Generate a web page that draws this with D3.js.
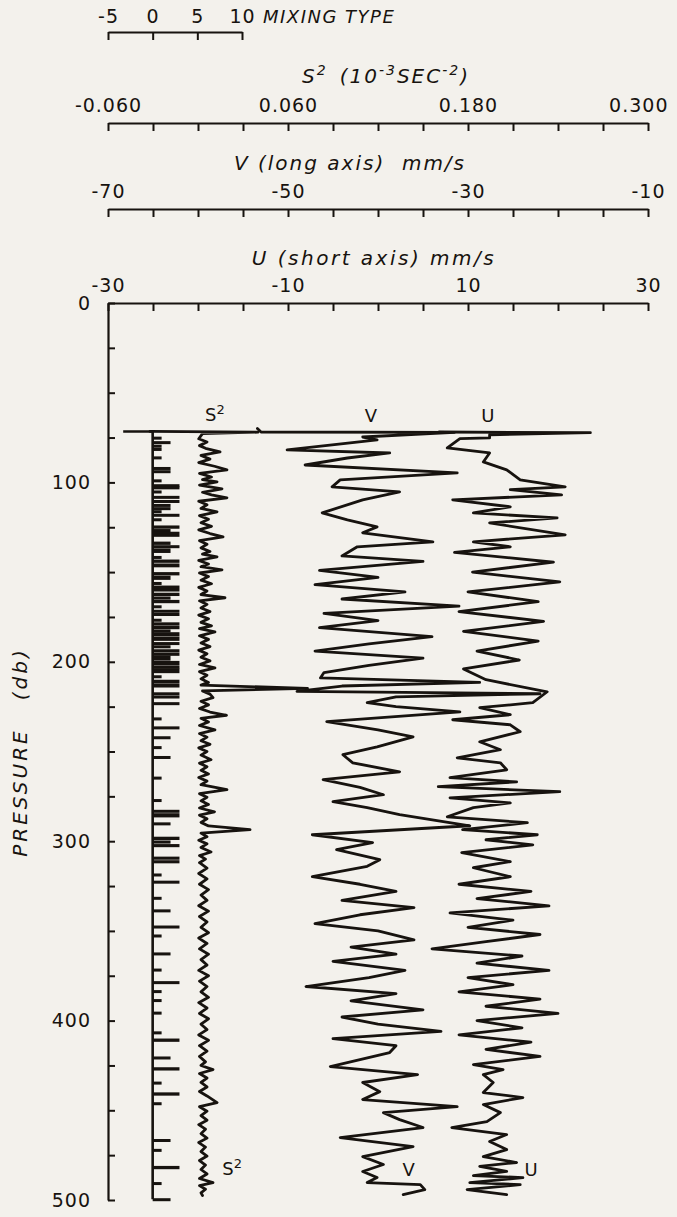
<!DOCTYPE html>
<html>
<head>
<meta charset="utf-8">
<script src="https://cdn.jsdelivr.net/npm/d3@7"></script>
<style>
  body { margin: 0; background: #f3f1ec; }
  svg { display: block; }
  text { font-family: "DejaVu Sans", sans-serif; fill: #17130f; }
  .it { font-style: italic; }
</style>
</head>
<body>
<svg id="chart" width="677" height="1217"></svg>
<script>
// ---- axis ticks and labels ----
const mixTicks = [-5, 0, 5, 10];
const s2Ticks = [-0.06, -0.03, 0, 0.03, 0.06, 0.09, 0.12, 0.15, 0.18, 0.21, 0.24, 0.27, 0.30];
const s2Labels = [-0.06, 0.06, 0.18, 0.30];
const vTicks = [-70, -65, -60, -55, -50, -45, -40, -35, -30, -25, -20, -15, -10];
const vLabels = [-70, -50, -30, -10];
const uTicks = [-30, -25, -20, -15, -10, -5, 0, 5, 10, 15, 20, 25, 30];
const uLabels = [-30, -10, 10, 30];
const pTicks = [0, 25, 50, 75, 100, 125, 150, 175, 200, 225, 250, 275, 300, 325, 350, 375, 400, 425, 450, 475, 500];
const pLabels = [0, 100, 200, 300, 400, 500];

// ---- mixing type: baseline and bars (pressure interval, type) ----
const mixLineP = [71.6, 71.6, 499.6];
const mixLineV = [-3.3, 0, 0];
const mixTop = [74.5, 77, 79, 80.8, 85.5, 91.4, 93.2, 98.3, 101, 102.2, 104.5, 107.5, 109.8, 112, 113.8, 115.5, 117.5, 120, 124, 126, 127.5, 133, 135, 136.8, 141, 143, 145.2, 150, 152, 155.5, 157.5, 161.5, 163.6, 165.5, 168.5, 171, 172.8, 176, 178, 180, 182, 183.5, 186, 189, 190.8, 193, 195, 196.5, 199.5, 202, 203.5, 207.5, 210, 212, 217, 218.8, 222.5, 231, 236, 241.5, 247, 252.5, 264, 276.5, 282.5, 284.4, 289.5, 297.5, 299.6, 301.6, 308.6, 310.6, 318, 322, 331, 338, 347, 352, 362, 371, 378, 383, 388, 395, 406, 410, 420, 426, 434, 440, 445.5, 466, 471.5, 481, 490, 499];
const mixBot = [75.2, 77.8, 80, 82, 86.2, 92.6, 94, 99, 101.8, 103, 105.2, 108.5, 111, 113.2, 115, 116.2, 118.5, 121, 125.5, 127, 130, 134.5, 136.2, 139, 141.7, 144.5, 147, 151.5, 154, 156.2, 160.5, 163, 165, 167, 169.2, 172.2, 174, 176.7, 179.5, 181.5, 183, 185.5, 188, 190.3, 192, 194.5, 196, 199, 201.5, 203, 206, 208.2, 211.5, 214, 218.2, 219.5, 223.3, 231.8, 236.8, 242.3, 247.8, 253.3, 264.8, 277.3, 283.8, 286.4, 290.2, 299, 301, 303, 310, 312, 318.8, 323, 331.8, 338.8, 348, 352.8, 362.8, 371.8, 379, 383.8, 388.8, 395.8, 406.8, 411.5, 420.8, 427.5, 434.8, 441.5, 446.3, 466.8, 472.3, 482.5, 490.8, 499.8];
const mixType = [1, 2, 1, 1, 1, 2, 2, 1, 3, 3, 1, 3, 3, 2, 2, 1, 3, 1, 3, 2, 3, 2, 3, 2, 1, 3, 3, 3, 2, 1, 3, 3, 2, 3, 1, 3, 3, 1, 3, 3, 2, 3, 3, 3, 2, 3, 3, 2, 3, 3, 3, 1, 3, 3, 3, 3, 3, 1, 3, 2, 1, 2, 1, 1, 3, 3, 2, 3, 2, 3, 3, 3, 1, 3, 1, 2, 3, 1, 2, 1, 3, 1, 1, 1, 1, 3, 2, 3, 1, 3, 1, 2, 1, 3, 1, 2];

// ---- S^2 profile (pressure, 10^-3 s^-2) ----
const s2P = [71.6, 72.0, 72.8, 75.7, 77.5, 79.5, 81, 83, 85, 87, 89, 91, 93, 95, 97, 98.5, 99.7, 101.5, 103.6, 105.5, 107, 108.6, 110.5, 112.5, 114.5, 116.4, 118.5, 120.5, 122.5, 124.5, 126.5, 128.5, 130.4, 132.5, 134.5, 136.5, 138.5, 140, 141.5, 143.5, 145.5, 147, 148.7, 150.5, 152.5, 154.5, 156.5, 158.5, 160.5, 162.5, 164.3, 166, 168, 170, 172, 174, 176, 178, 180, 181.5, 183.3, 185.5, 187.5, 189.5, 191.5, 193.5, 195.5, 197.5, 199.5, 201.5, 203.4, 205.5, 207.5, 209.5, 211.5, 213, 214.8, 216.2, 218, 220, 222, 224, 226, 228, 229.8, 231.5, 233.5, 235.5, 237.9, 240, 242, 244, 246, 248, 250, 252, 254.6, 256.5, 258.5, 260.5, 262.5, 264.5, 266.5, 268.5, 271.3, 273.5, 275.5, 277.5, 279.5, 281.5, 283.6, 285.5, 287.5, 289.5, 291.5, 293.6, 295.5, 297.5, 299.5, 301.5, 303.5, 306, 308, 310, 312, 315, 318, 321, 324, 327, 330, 333, 336, 339, 342, 345, 348, 351, 354, 357, 360, 363, 366, 369, 372, 375, 378, 381, 384, 387, 390, 393, 396, 399, 402, 405, 408, 411, 414, 417, 420, 423, 425, 427.3, 429.5, 432, 434.5, 437, 439.5, 442, 445.7, 448, 450.5, 453, 455.5, 458, 460.5, 463, 465.5, 468, 470.5, 473, 475.5, 478, 480.5, 483, 485.5, 488, 490.3, 492, 494, 496, 497.5];
const s2Val = [-0.032, 0.040, 0.003, 0.0005, 0.006, 0.001, 0.005, 0.0147, 0.002, 0.008, 0.0005, 0.011, 0.0193, 0.001, 0.009, 0.003, 0.0127, 0.001, 0.016, 0.003, 0.009, 0.0193, 0.0005, 0.006, 0.002, 0.0127, 0.001, 0.007, 0.002, 0.009, 0.0005, 0.008, 0.0167, 0.001, 0.006, 0.002, 0.008, 0.003, 0.0127, 0.0005, 0.007, 0.002, 0.016, 0.001, 0.007, 0.002, 0.009, 0.0005, 0.006, 0.002, 0.018, 0.001, 0.006, 0.002, 0.008, 0.0005, 0.007, 0.002, 0.009, 0.001, 0.0113, 0.001, 0.007, 0.002, 0.008, 0.0005, 0.006, 0.002, 0.008, 0.001, 0.0113, 0.001, 0.006, 0.002, 0.007, 0.002, 0.073, 0.003, 0.008, 0.010, 0.002, 0.007, 0.001, 0.008, 0.019, 0.002, 0.007, 0.001, 0.0113, 0.001, 0.006, 0.002, 0.008, 0.0005, 0.006, 0.002, 0.0087, 0.001, 0.006, 0.002, 0.007, 0.0005, 0.006, 0.002, 0.0193, 0.001, 0.006, 0.002, 0.007, 0.001, 0.011, 0.001, 0.006, 0.002, 0.007, 0.0347, 0.002, 0.006, 0.0005, 0.006, 0.002, 0.0087, 0.001, 0.005, 0.001, 0.006, 0.0005, 0.006, 0.001, 0.007, 0.002, 0.006, 0.0005, 0.007, 0.001, 0.006, 0.002, 0.007, 0.0005, 0.006, 0.001, 0.007, 0.002, 0.006, 0.0005, 0.007, 0.001, 0.006, 0.002, 0.007, 0.0005, 0.006, 0.001, 0.007, 0.002, 0.006, 0.0005, 0.007, 0.001, 0.006, 0.001, 0.005, 0.002, 0.010, 0.001, 0.006, 0.002, 0.006, 0.001, 0.006, 0.0127, 0.001, 0.006, 0.002, 0.006, 0.0005, 0.005, 0.002, 0.006, 0.0005, 0.005, 0.002, 0.006, 0.001, 0.005, 0.002, 0.006, 0.001, 0.010, 0.001, 0.005, 0.002, 0.003];

// ---- V (long axis) profile, mm/s ----
const vP = [70.0, 71.9, 72.1, 74.7, 76.3, 81.9, 83.6, 86.4, 90.3, 94.7, 98.6, 102.5, 105.3, 109.7, 117, 120.9, 124.8, 128.1, 133.1, 135.9, 141, 144, 149, 153, 157, 161, 165, 169, 173, 177, 181, 186, 190, 194, 198, 202, 206, 209, 211.5, 213.5, 216.5, 217.8, 219.5, 222.8, 225, 227.9, 233.4, 238, 241.8, 247.4, 251.8, 256.3, 261.3, 265.7, 270, 274.1, 278, 281.3, 285.2, 291.4, 296.4, 300.8, 304.7, 310.3, 314, 319.8, 324, 328, 333, 337, 341, 346, 350, 355, 359, 363, 367, 372, 376, 381, 385, 389, 394, 398, 402, 406, 410, 414, 417.8, 425.6, 430.1, 434.5, 439.6, 444, 447.9, 451.3, 455.2, 459.6, 465.2, 470.2, 475.8, 480.2, 484.1, 487.5, 490.3, 491.4, 494.2, 497];
const vVal = [-53.4, -53.0, -31.5, -41.7, -40.1, -50.1, -38.7, -43.4, -48.1, -31.2, -44.2, -45.1, -37.6, -41.7, -46.2, -43.4, -40.1, -41.7, -33.9, -42.3, -44, -35, -46.5, -40, -47, -37, -44, -31, -46, -40, -46.5, -34, -41, -47, -35, -41, -46, -46.4, -28.7, -44, -49, -22, -38, -41.2, -38, -30.9, -45.7, -40, -36.1, -40.1, -43.9, -42.8, -37.6, -46.1, -42, -39.4, -45, -41.2, -37.6, -29.8, -47.3, -40.6, -44.6, -39.8, -41.2, -47.3, -42, -38, -44, -36, -42, -47, -40, -36, -43, -38, -45, -37, -41, -48, -38, -43, -35, -44, -40, -33, -45, -38, -38.7, -45.3, -35.6, -41.7, -39.8, -41.7, -31.2, -39.4, -37.6, -35, -44.2, -36.1, -41.7, -39.4, -41.7, -40.1, -41.2, -35.3, -34.8, -37.2];

// ---- U (short axis) profile, mm/s ----
const uP = [71.9, 72.3, 73.5, 75.2, 75.6, 80.8, 83.6, 88.6, 93, 98.6, 102.5, 104, 107, 109.7, 113.6, 117, 119.8, 122.6, 129.2, 133.1, 135.9, 139, 144.5, 150, 155.5, 161, 166.5, 172, 177.5, 183, 188.5, 194, 199, 204, 210, 216.7, 222.8, 225.6, 229.5, 232.3, 235.1, 239, 244.6, 249, 253.5, 256.3, 260.2, 264.6, 266.9, 269.6, 272.4, 275.8, 278.6, 281.3, 286.4, 289.7, 293.6, 296.4, 299.2, 302, 306.4, 311.4, 314.8, 319.8, 324, 328, 332, 336, 340, 344, 348, 352, 356, 360, 364, 368, 372, 376, 380, 384, 388, 392, 396, 400, 404, 408, 412, 416, 420, 424.5, 427.3, 430.1, 434.5, 440.1, 442.9, 446.8, 451.3, 456.3, 459.6, 463.5, 467.4, 471.9, 475.8, 479.1, 481.3, 484.1, 486.4, 487.5, 490.3, 491.4, 494.2, 497];
const uVal = [6.8, 23.6, 12.4, 12.4, 9.1, 7.7, 12.4, 11.7, 14.3, 15.8, 20.8, 14.7, 20.4, 8.3, 14.7, 10.6, 19.9, 12.4, 20.8, 10.6, 14.7, 8.5, 19.5, 10.5, 20.2, 10, 17.8, 9, 18.4, 9.5, 17.8, 11, 15.7, 9.5, 12, 18.8, 17.2, 11.3, 14.7, 8.3, 14.7, 15.8, 11.3, 13.6, 8.8, 13.6, 14.3, 8, 15.4, 6.7, 20.2, 8, 14.7, 10.6, 7.7, 16.6, 9.4, 17.7, 12, 17.2, 9.3, 14.7, 10.6, 14.7, 9, 17, 11, 19, 8, 15, 10, 18, 12, 6, 16, 11, 19, 10, 15, 9, 18, 12, 20, 11, 16, 9, 17, 12, 18, 10.6, 13.9, 11.7, 12.8, 11.7, 16.1, 11.7, 13.6, 12.1, 8.2, 14.3, 12.4, 14.3, 11.7, 15.4, 11.3, 14.3, 10.6, 16.1, 10.2, 15.8, 9.9, 14.3];

// ---- scales ----
const svg = d3.select("#chart");
const y = d3.scaleLinear().domain([0, 500]).range([303, 1200]);
const xMix = d3.scaleLinear().domain([-5, 10]).range([108, 242]);
const xS2 = d3.scaleLinear().domain([-0.06, 0.30]).range([108, 648]);
const xV = d3.scaleLinear().domain([-70, -10]).range([108, 648]);
const xU = d3.scaleLinear().domain([-30, 30]).range([108, 648]);

const fmt = d3.formatLocale({ decimal: ".", thousands: ",", grouping: [3], currency: ["", ""], minus: "-" });
const has = (arr, d) => arr.some(v => Math.abs(v - d) < 1e-9);

const ink = "#17130f";
const tickFont = 19;

function topAxis(scale, yPos, ticks, labels, f) {
  const g = svg.append("g").attr("transform", `translate(0,${yPos})`)
    .call(d3.axisTop(scale).tickValues(ticks).tickSize(-8).tickSizeOuter(0).tickPadding(11)
      .tickFormat(d => has(labels, d) ? f(d) : ""));
  g.select(".domain").attr("stroke", ink).attr("stroke-width", 2.2);
  g.selectAll(".tick line").attr("stroke", ink).attr("stroke-width", 2);
  g.selectAll(".tick text").attr("font-size", tickFont).attr("font-family", "DejaVu Sans")
    .attr("letter-spacing", 1).attr("fill", ink);
  return g;
}

// mixing type axis
topAxis(xMix, 32, mixTicks, mixTicks, d => fmt.format("d")(d)).selectAll(".tick text").attr("dy", "0.1em");
svg.append("text").attr("class", "it").attr("x", 263).attr("y", 23).attr("font-size", 18)
  .attr("letter-spacing", 1.5).text("MIXING TYPE");

// S^2 axis; the right-most label is nudged inward so it stays on the page
const gs2 = topAxis(xS2, 123, s2Ticks, s2Labels, d => fmt.format(".3f")(d));
gs2.selectAll(".tick text").filter(d => Math.abs(d - 0.30) < 1e-9).attr("text-anchor", "end").attr("dx", 20);
const s2t = svg.append("text").attr("class", "it").attr("x", 386).attr("y", 83).attr("text-anchor", "middle")
  .attr("font-size", 20).attr("letter-spacing", 2);
s2t.append("tspan").text("S");
s2t.append("tspan").attr("dy", -8).attr("font-size", 14).text("2");
s2t.append("tspan").attr("dy", 8).text("\u2002(10");
s2t.append("tspan").attr("dy", -8).attr("font-size", 14).text("-3");
s2t.append("tspan").attr("dy", 8).text("SEC");
s2t.append("tspan").attr("dy", -8).attr("font-size", 14).text("-2");
s2t.append("tspan").attr("dy", 8).text(")");

// V axis
topAxis(xV, 209, vTicks, vLabels, d => fmt.format("d")(d));
svg.append("text").attr("class", "it").attr("x", 350).attr("y", 170).attr("text-anchor", "middle")
  .attr("font-size", 20).attr("letter-spacing", 2)
  .attr("xml:space", "preserve").text("V (long axis)  mm/s");

// U axis (top edge of the profile panel)
topAxis(xU, 303, uTicks, uLabels, d => fmt.format("d")(d));
svg.append("text").attr("class", "it").attr("x", 374).attr("y", 265).attr("text-anchor", "middle")
  .attr("font-size", 20).attr("letter-spacing", 2.5).text("U (short axis) mm/s");

// pressure axis
const gl = svg.append("g").attr("transform", "translate(108,0)")
  .call(d3.axisLeft(y).tickValues(pTicks).tickSize(-7).tickSizeOuter(0).tickPadding(17)
    .tickFormat(d => pLabels.includes(d) ? String(d) : ""));
gl.select(".domain").attr("stroke", ink).attr("stroke-width", 2.2);
gl.selectAll(".tick line").attr("stroke", ink).attr("stroke-width", 2);
gl.selectAll(".tick text").attr("font-size", tickFont).attr("font-family", "DejaVu Sans")
  .attr("letter-spacing", 1).attr("fill", ink);

svg.append("text").attr("class", "it").attr("font-size", 20).attr("letter-spacing", 3)
  .attr("transform", `translate(27,${752}) rotate(-90)`).attr("text-anchor", "middle")
  .attr("xml:space", "preserve").text("PRESSURE   (db)");

// ---- profiles ----
const plot = svg.append("g");

// mixing type bars (thin intervals are drawn at least 3 px tall)
plot.selectAll("rect.mix").data(mixType).join("rect").attr("class", "mix")
  .attr("x", xMix(0))
  .attr("width", d => xMix(d) - xMix(0))
  .attr("y", (d, i) => y(mixTop[i]))
  .attr("height", (d, i) => Math.max(3, y(mixBot[i]) - y(mixTop[i]) + 0.6))
  .attr("fill", ink);

const mixLine = d3.line().x(i => xMix(mixLineV[i])).y(i => y(mixLineP[i]));
plot.append("path").attr("d", mixLine(d3.range(mixLineP.length)))
  .attr("fill", "none").attr("stroke", ink).attr("stroke-width", 2.6);

function profile(P, V, xs) {
  const line = d3.line().x(i => xs(V[i])).y(i => y(P[i])).curve(d3.curveLinear);
  plot.append("path").attr("d", line(d3.range(P.length)))
    .attr("fill", "none").attr("stroke", ink).attr("stroke-width", 2.8)
    .attr("stroke-linejoin", "round").attr("stroke-linecap", "round");
}
profile(s2P, s2Val, xS2);
profile(vP, vVal, xV);
profile(uP, uVal, xU);

// profile labels at the top and bottom of each trace
function lab(x, yy, main, sup) {
  const t = svg.append("text").attr("x", x).attr("y", yy).attr("font-size", 18).attr("text-anchor", "middle");
  t.append("tspan").text(main);
  if (sup) t.append("tspan").attr("dy", -7).attr("font-size", 13).text(sup);
}
lab(xS2(0.0113), y(66), "S", "2");
lab(xV(-40.8), y(66.5), "V");
lab(xU(12.2), y(66.5), "U");
lab(xS2(0.0227), y(486), "S", "2");
lab(xV(-36.6), y(486.5), "V");
lab(xU(17), y(486.5), "U");
</script>
</body>
</html>
